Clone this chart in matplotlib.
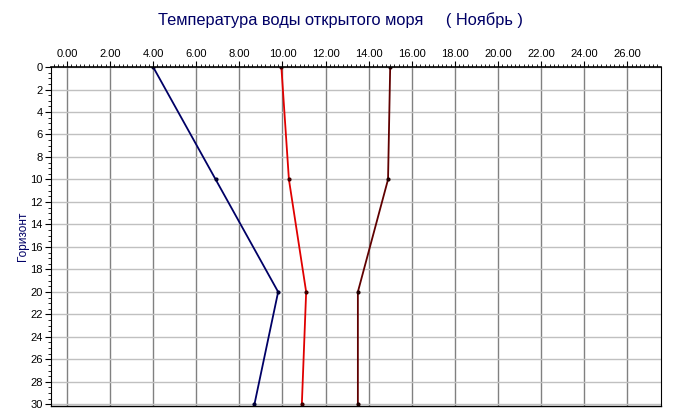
import matplotlib.pyplot as plt
from matplotlib.ticker import MultipleLocator, FormatStrFormatter

depth = [0, 10, 20, 30]
temp_blue = [4.0, 6.9, 9.8, 8.7]
temp_red = [9.95, 10.3, 11.1, 10.9]
temp_dark = [15.0, 14.9, 13.5, 13.5]

plt.rcParams['font.family'] = ['Liberation Sans', 'DejaVu Sans']

fig = plt.figure(figsize=(6.75, 4.19), dpi=100)
ax = fig.add_axes([0.0756, 0.031, 0.9034, 0.809])

ax.plot(temp_blue, depth, color='#000066', lw=1.3, marker='o', ms=2, mfc='#000033', mec='#000033')
ax.plot(temp_red, depth, color='#e00000', lw=1.3, marker='o', ms=2, mfc='#400000', mec='#400000')
ax.plot(temp_dark, depth, color='#600000', lw=1.3, marker='o', ms=2, mfc='#200000', mec='#200000')

ax.set_xlim(-0.74, 27.56)
ax.set_ylim(30.15, 0)

ax.xaxis.tick_top()
ax.xaxis.set_major_locator(MultipleLocator(2))
ax.xaxis.set_minor_locator(MultipleLocator(0.2))
ax.xaxis.set_major_formatter(FormatStrFormatter('%.2f'))
ax.yaxis.set_major_locator(MultipleLocator(2))
ax.yaxis.set_minor_locator(MultipleLocator(0.5))

ax.tick_params(axis='both', which='major', labelsize=8, length=4, width=0.8, pad=2)
ax.tick_params(axis='both', which='minor', length=2, width=0.6)
ax.tick_params(axis='x', which='both', top=True, bottom=False)

ax.grid(True, axis='x', color='#808080', lw=1)
ax.grid(True, axis='y', color='#c0c0c0', lw=1)
ax.set_axisbelow(True)

ax.spines['top'].set_linewidth(1.2)
ax.spines['bottom'].set_linewidth(1.0)
ax.spines['right'].set_linewidth(0.8)
ax.spines['left'].set_linewidth(0.8)

ax.set_ylabel('Горизонт', color='#000066', fontsize=8.5, labelpad=1)
fig.text(0.505, 0.952, 'Температура воды открытого моря     ( Ноябрь )',
         ha='center', va='center', color='#000066', fontsize=11.8)

fig.savefig('out.png', dpi=100)
